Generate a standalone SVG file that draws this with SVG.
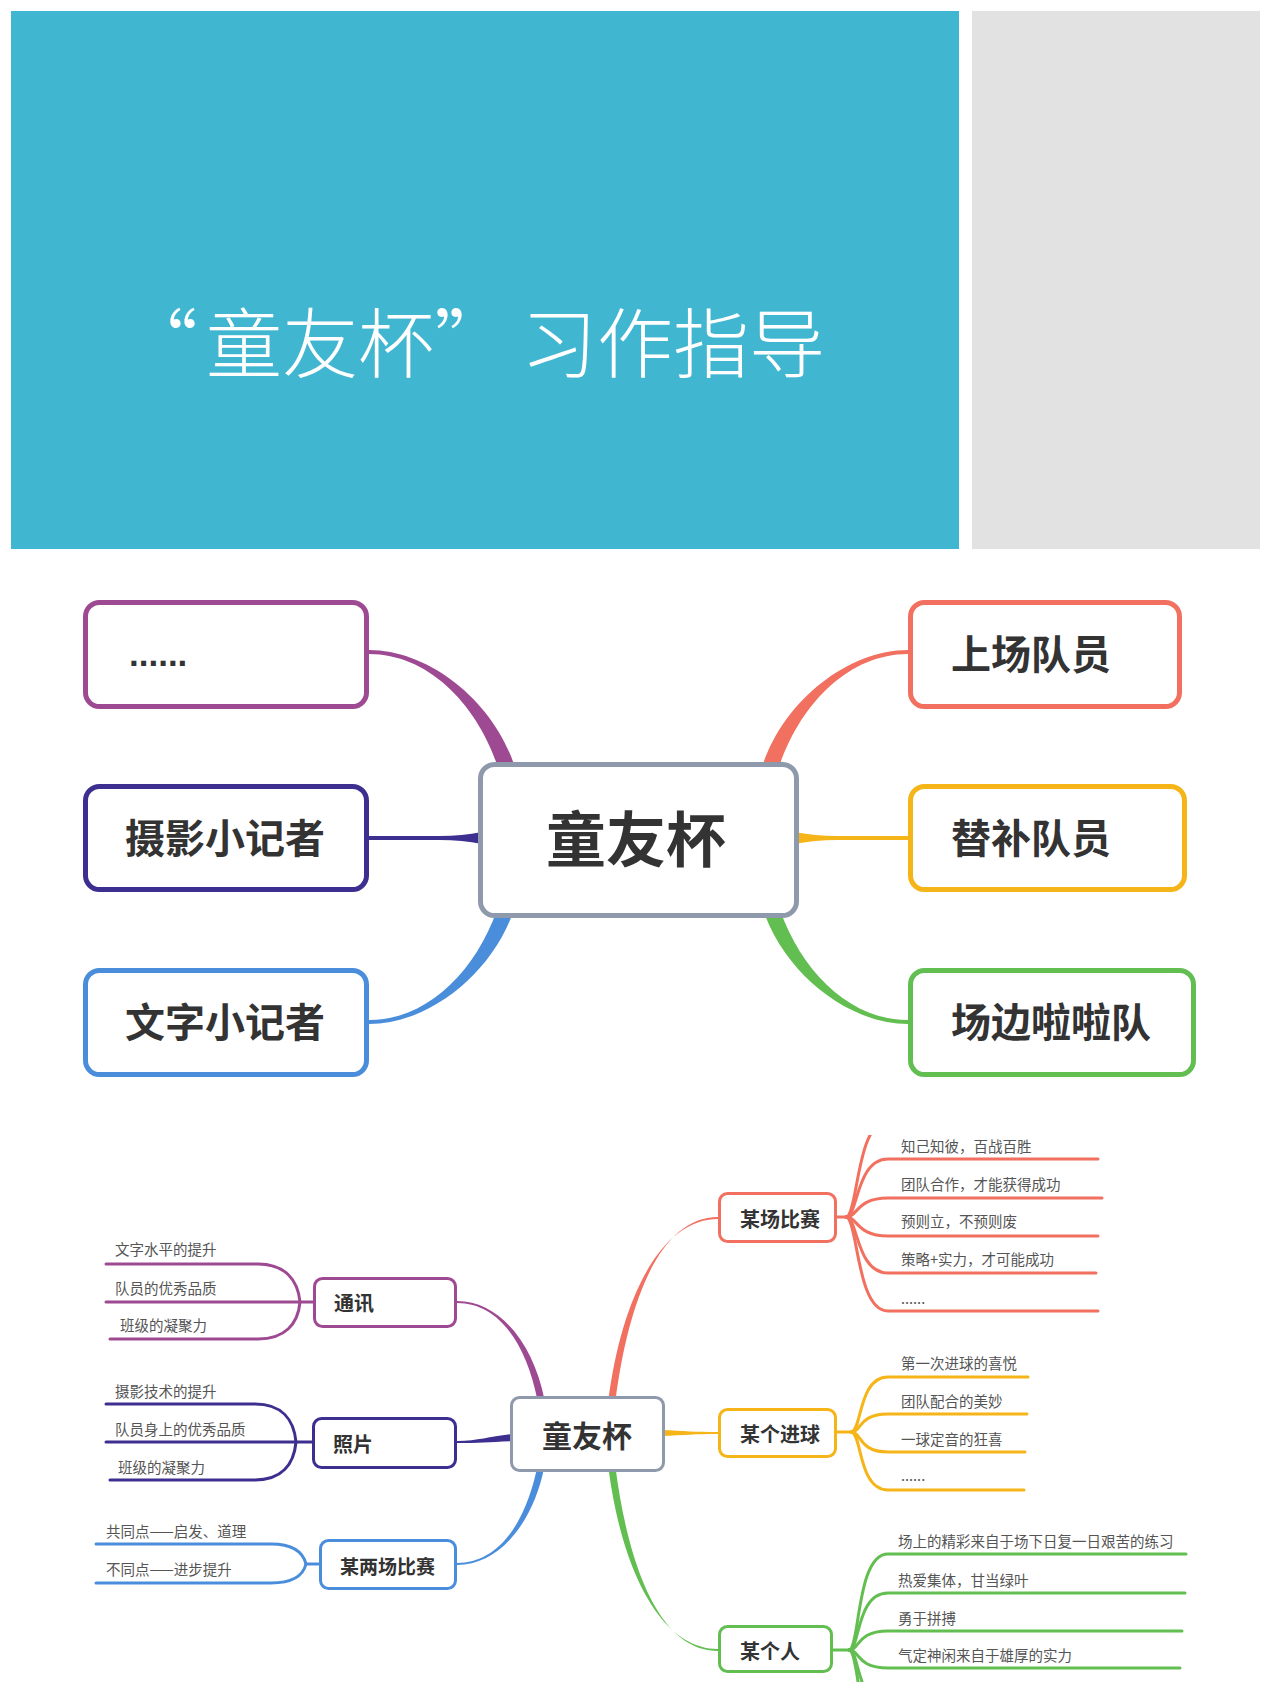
<svg xmlns="http://www.w3.org/2000/svg" width="1271" height="1694" viewBox="0 0 1271 1694">
<defs>
<style>
text { font-family: "Noto Sans CJK SC", "Noto Sans", sans-serif; }
.title { font-size: 76px; font-weight: 300; fill: #ffffff; }
.big { font-size: 40px; font-weight: 700; fill: #333333; }
.hub { font-size: 60px; font-weight: 700; fill: #333333; }
.mid { font-size: 20px; font-weight: 700; fill: #333333; }
.hub2 { font-size: 30px; font-weight: 700; fill: #333333; }
.leaf { font-size: 14.5px; fill: #555555; }
.box1 { fill: #ffffff; stroke-width: 5; }
.box2 { fill: #ffffff; stroke-width: 3; }
.ln { fill: none; stroke-width: 3; stroke-linecap: round; }
.purple { stroke: #9E4A92; }
.indigo { stroke: #3C2F90; }
.blue { stroke: #4A8EDB; }
.gray { stroke: #8E9AAB; }
.red { stroke: #F2705F; }
.yellow { stroke: #F5B418; }
.green { stroke: #62BE50; }
</style>
<clipPath id="clipTop"><rect x="0" y="1135" width="1271" height="559"/></clipPath>
<clipPath id="clipBot"><rect x="0" y="1100" width="1271" height="582"/></clipPath>
</defs>
<rect x="0" y="0" width="1271" height="1694" fill="#ffffff"/>

<!-- banner -->
<g id="banner">
<rect x="11" y="11" width="948" height="538" fill="#41B6D0"/>
<rect x="972" y="11" width="288" height="538" fill="#E2E2E2"/>
<text class="title" y="339" dominant-baseline="central"><tspan x="122">“</tspan><tspan x="206">童友杯”</tspan><tspan x="521">习作指导</tspan></text>
</g>

<!-- middle section connectors -->
<g id="connectors-top">
<path d="M369,650 C430,650 495.7,702.7 515.7,769.7 L500.3,774.3 C480.3,707.3 430,654 369,654 Z" fill="#9E4A92"/>
<path d="M369,836 L440,836 Q462,836 482,832 L482,844 Q462,840 440,840 L369,840 Z" fill="#3C2F90"/>
<path transform="matrix(1,0,0,-1,0,1674)" d="M369,650 C430,650 495.7,702.7 515.7,769.7 L500.3,774.3 C480.3,707.3 430,654 369,654 Z" fill="#4A8EDB"/>
<path transform="matrix(-1,0,0,1,1277,0)" d="M369,650 C430,650 495.7,702.7 515.7,769.7 L500.3,774.3 C480.3,707.3 430,654 369,654 Z" fill="#F2705F"/>
<path transform="matrix(-1,0,0,1,1277,0)" d="M369,836 L440,836 Q462,836 482,832 L482,844 Q462,840 440,840 L369,840 Z" fill="#F5B418"/>
<path transform="matrix(-1,0,0,-1,1277,1674)" d="M369,650 C430,650 495.7,702.7 515.7,769.7 L500.3,774.3 C480.3,707.3 430,654 369,654 Z" fill="#62BE50"/>
</g>

<g id="n-dots"><rect class="box1 purple" x="85.5" y="602.5" width="281" height="104" rx="14"/>
<text x="129" y="666" style="font-family:'Liberation Sans',sans-serif;font-size:35px;font-weight:700;fill:#333">......</text></g>
<g id="n-sheying"><rect class="box1 indigo" x="85.5" y="786.5" width="281" height="103" rx="14"/>
<text class="big" x="125" y="836" dominant-baseline="central">摄影小记者</text></g>
<g id="n-wenzi"><rect class="box1 blue" x="85.5" y="970.5" width="281" height="104" rx="14"/>
<text class="big" x="125" y="1020" dominant-baseline="central">文字小记者</text></g>
<g id="n-hub"><rect class="box1 gray" x="480.5" y="764.5" width="316" height="151" rx="14"/>
<text class="hub" x="636" y="835" text-anchor="middle" dominant-baseline="central">童友杯</text></g>
<g id="n-shangchang"><rect class="box1 red" x="910.5" y="602.5" width="269" height="104" rx="14"/>
<text class="big" x="951" y="652" dominant-baseline="central">上场队员</text></g>
<g id="n-tibu"><rect class="box1 yellow" x="910.5" y="786.5" width="274" height="103" rx="14"/>
<text class="big" x="951" y="836" dominant-baseline="central">替补队员</text></g>
<g id="n-changbian"><rect class="box1 green" x="910.5" y="970.5" width="283" height="104" rx="14"/>
<text class="big" x="951" y="1020" dominant-baseline="central">场边啦啦队</text></g>

<!-- bottom section connectors -->
<g id="connectors-bottom">
<path d="M457,1301 C500,1301 533.4,1344.3 544.4,1399.3 L537.6,1400.7 C526.6,1345.7 500,1303 457,1303 Z" fill="#9E4A92"/>
<path d="M457,1441 C480,1441 490,1436 514,1434 L514,1441 C490,1442 480,1443 457,1443 Z" fill="#3C2F90"/>
<path transform="matrix(1,0,0,-1,0,2866)" d="M457,1301 C500,1301 533.4,1344.3 544.4,1399.3 L537.6,1400.7 C526.6,1345.7 500,1303 457,1303 Z" fill="#4A8EDB"/>
<path d="M718,1217 C660,1217 628.5,1300.5 615.5,1400.5 L608.5,1399.5 C621.5,1299.5 660,1219 718,1219 Z" fill="#F2705F"/>
<path d="M661,1430 C685,1431 695,1432 718,1432 L718,1434 C695,1434 685,1435 661,1436 Z" fill="#F5B418"/>
<path transform="matrix(1,0,0,-1,0,2868)" d="M718,1217 C660,1217 628.5,1300.5 615.5,1400.5 L608.5,1399.5 C621.5,1299.5 660,1219 718,1219 Z" fill="#62BE50"/>

<g class="ln purple">
<path d="M106,1264 H258 C285,1264 298,1280 300,1302"/>
<path d="M106,1302 H314"/>
<path d="M110,1339 H258 C285,1339 298,1324 300,1302"/>
</g>
<g class="ln indigo">
<path d="M106,1404 H255 C282,1404 294,1420 296,1442"/>
<path d="M106,1442 H313"/>
<path d="M110,1480 H255 C282,1480 294,1464 296,1442"/>
</g>
<g class="ln blue">
<path d="M96,1544 H271 C292,1544 303,1552 306,1564"/>
<path d="M96,1583 H271 C292,1583 303,1576 306,1564"/>
<path d="M306,1564 H320"/>
</g>
<g class="ln red" clip-path="url(#clipTop)">
<path d="M836,1217 H846"/>
<path d="M846,1217 C858,1217 856,1121 888,1121 H1100"/>
<path d="M846,1217 C858,1217 856,1159 888,1159 H1098"/>
<path d="M846,1217 C858,1217 856,1198 888,1198 H1102"/>
<path d="M846,1217 C858,1217 856,1236 888,1236 H1098"/>
<path d="M846,1217 C858,1217 856,1273 888,1273 H1096"/>
<path d="M846,1217 C858,1217 856,1311 888,1311 H1098"/>
</g>
<g class="ln yellow">
<path d="M836,1432 H851"/>
<path d="M851,1432 C862,1432 858,1377 888,1377 H1028"/>
<path d="M851,1432 C862,1432 858,1414 888,1414 H1027"/>
<path d="M851,1432 C862,1432 858,1452 888,1452 H1025"/>
<path d="M851,1432 C862,1432 858,1490 888,1490 H1024"/>
</g>
<g class="ln green" clip-path="url(#clipBot)">
<path d="M832,1650 H849"/>
<path d="M849,1650 C860,1650 856,1554 888,1554 H1186"/>
<path d="M849,1650 C860,1650 856,1593 888,1593 H1185"/>
<path d="M849,1650 C860,1650 856,1631 888,1631 H1182"/>
<path d="M849,1650 C860,1650 856,1668 888,1668 H1180"/>
<path d="M849,1650 C860,1650 856,1706 888,1706 H1180"/>
<path d="M849,1650 C860,1650 856,1744 888,1744 H1180"/>
</g>
</g>

<!-- bottom nodes -->
<g id="b-tongxun"><rect class="box2 purple" x="314.5" y="1278.5" width="141" height="48" rx="8"/>
<text class="mid" x="334" y="1302" dominant-baseline="central">通讯</text></g>
<g id="b-zhaopian"><rect class="box2 indigo" x="313.5" y="1418.5" width="142" height="49" rx="8"/>
<text class="mid" x="333" y="1443" dominant-baseline="central">照片</text></g>
<g id="b-liangchang"><rect class="box2 blue" x="320.5" y="1540.5" width="135" height="48" rx="8"/>
<text class="mid" x="340" y="1565" dominant-baseline="central" style="font-size:19px">某两场比赛</text></g>
<g id="b-hub"><rect class="box2 gray" x="511.5" y="1397.5" width="152" height="73" rx="8"/>
<text class="hub2" x="587" y="1434" text-anchor="middle" dominant-baseline="central">童友杯</text></g>
<g id="b-bisai"><rect class="box2 red" x="719.5" y="1193.5" width="116" height="48" rx="8"/>
<text class="mid" x="740" y="1218" dominant-baseline="central">某场比赛</text></g>
<g id="b-jinqiu"><rect class="box2 yellow" x="719.5" y="1409.5" width="116" height="47" rx="8"/>
<text class="mid" x="740" y="1433" dominant-baseline="central">某个进球</text></g>
<g id="b-geren"><rect class="box2 green" x="719.5" y="1626.5" width="112" height="45" rx="8"/>
<text class="mid" x="740" y="1650" dominant-baseline="central">某个人</text></g>

<!-- leaf labels -->
<g id="leaves" class="leaf">
<text class="leaf" x="115" y="1248" dominant-baseline="central">文字水平的提升</text>
<text class="leaf" x="115" y="1287" dominant-baseline="central">队员的优秀品质</text>
<text class="leaf" x="120" y="1324" dominant-baseline="central">班级的凝聚力</text>
<text class="leaf" x="115" y="1390" dominant-baseline="central">摄影技术的提升</text>
<text class="leaf" x="115" y="1428" dominant-baseline="central">队员身上的优秀品质</text>
<text class="leaf" x="118" y="1466" dominant-baseline="central">班级的凝聚力</text>
<text class="leaf" x="106" y="1530" dominant-baseline="central">共同点——启发、道理</text>
<text class="leaf" x="106" y="1568" dominant-baseline="central">不同点——进步提升</text>
<text class="leaf" x="901" y="1145" dominant-baseline="central">知己知彼，百战百胜</text>
<text class="leaf" x="901" y="1183" dominant-baseline="central">团队合作，才能获得成功</text>
<text class="leaf" x="901" y="1220" dominant-baseline="central">预则立，不预则废</text>
<text class="leaf" x="901" y="1258" dominant-baseline="central">策略+实力，才可能成功</text>
<text class="leaf" x="901" y="1304">......</text>
<text class="leaf" x="901" y="1362" dominant-baseline="central">第一次进球的喜悦</text>
<text class="leaf" x="901" y="1400" dominant-baseline="central">团队配合的美妙</text>
<text class="leaf" x="901" y="1438" dominant-baseline="central">一球定音的狂喜</text>
<text class="leaf" x="901" y="1481">......</text>
<text class="leaf" x="898" y="1540" dominant-baseline="central">场上的精彩来自于场下日复一日艰苦的练习</text>
<text class="leaf" x="898" y="1579" dominant-baseline="central">热爱集体，甘当绿叶</text>
<text class="leaf" x="898" y="1617" dominant-baseline="central">勇于拼搏</text>
<text class="leaf" x="898" y="1654" dominant-baseline="central">气定神闲来自于雄厚的实力</text>
</g>
</svg>
